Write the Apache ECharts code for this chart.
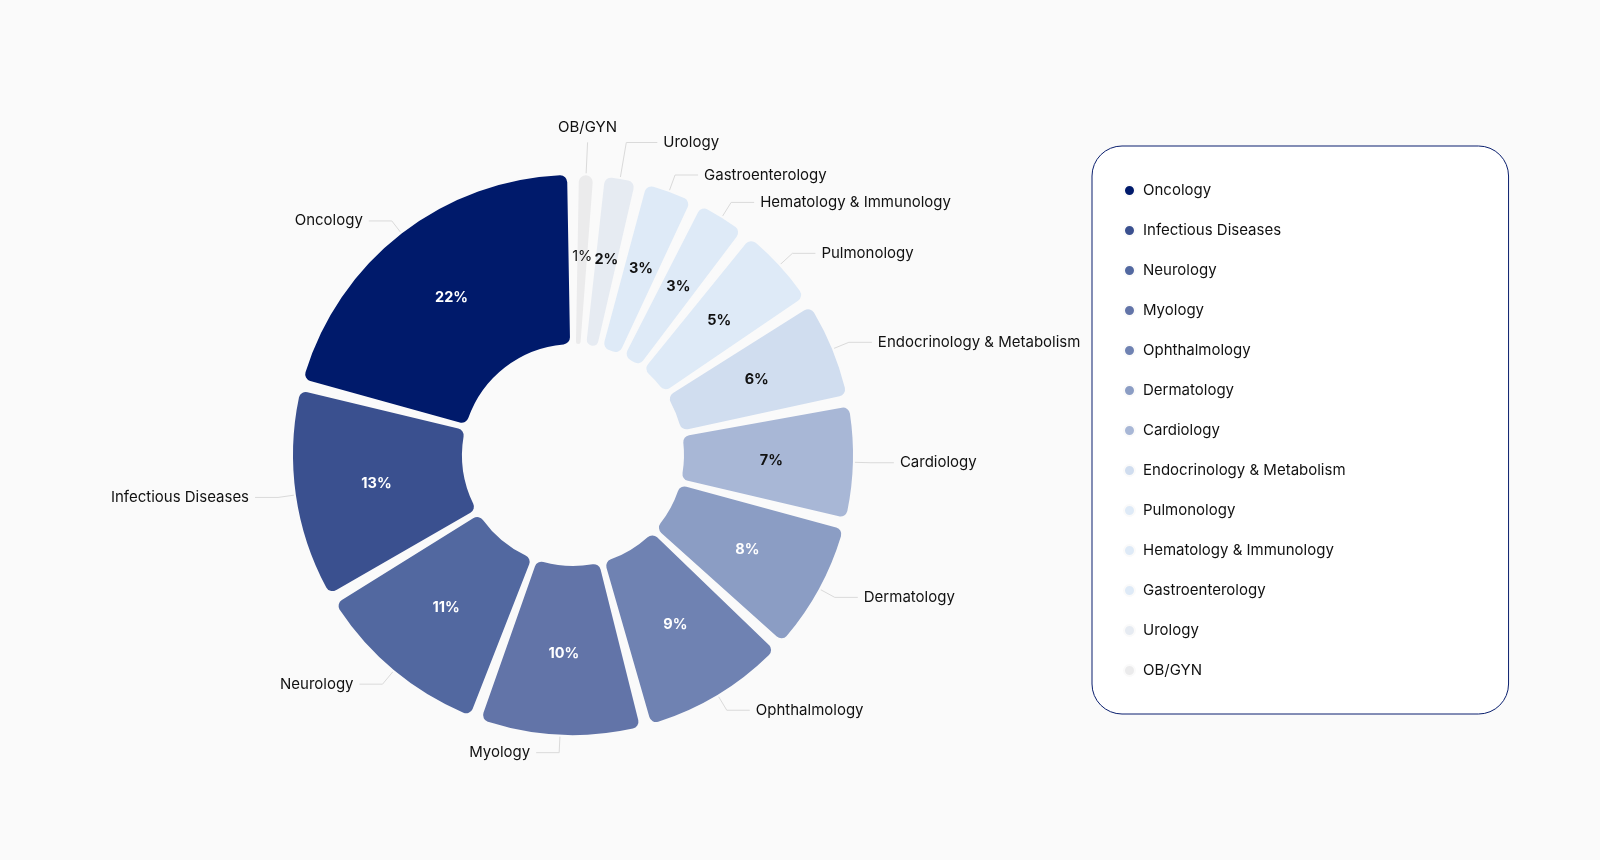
<!DOCTYPE html>
<html><head><meta charset="utf-8">
<script src="https://cdn.jsdelivr.net/npm/echarts@6/dist/echarts.min.js"></script>
<style>html,body{margin:0;padding:0;background:#fafafa;} #c{width:1600px;height:860px;}</style>
</head><body><div id="c"></div>
<script>
// ---- data ----
const categories = ['Oncology','Infectious Diseases','Neurology','Myology','Ophthalmology','Dermatology','Cardiology','Endocrinology & Metabolism','Pulmonology','Hematology & Immunology','Gastroenterology','Urology','OB/GYN'];
const values = [22, 13, 11, 10, 9, 8, 7, 6, 5, 3, 3, 2, 1];
const colors = ['#001a6b','#3a508f','#5268a0','#6274a8','#6f82b2','#8b9dc4','#a8b7d6','#d0ddef','#deeaf7','#deeaf7','#deeaf7','#e6ebf2','#ebebec'];
const insideTextColors = ['#ffffff','#ffffff','#ffffff','#ffffff','#ffffff','#ffffff','#111111','#111111','#111111','#111111','#111111','#111111','#111111'];

// ---- style / layout ----
const FONT = 'Inter, "Noto Sans", sans-serif';
const BG = '#fafafa';
const PAD_DEG = 2;                 // angular padding reserved between slices
const total = values.reduce((a, b) => a + b, 0);
const spacerValue = PAD_DEG * total / (360 - categories.length * PAD_DEG);
const labelLineLen = {'Urology': 36, 'OB/GYN': 32, 'Oncology': 15};
const labelLineLen2 = {'Urology': 31, 'OB/GYN': 0};
const OB_INDEX = categories.length - 1;

function buildData(kind) {
  const out = [];
  const spacer = (v) => ({
    name: '', value: v, isSpacer: true,
    itemStyle: {color: 'rgba(0,0,0,0)', borderWidth: 0},
    label: {show: false}, labelLine: {show: false}, tooltip: {show: false}
  });
  out.push(spacer(spacerValue / 2));
  categories.forEach((n, i) => {
    const item = {name: n, value: values[i], catIndex: i};
    if (kind === 'outer') {
      item.itemStyle = {color: colors[i]};
      item.labelLine = {
        length: labelLineLen[n] != null ? labelLineLen[n] : 17,
        length2: labelLineLen2[n] != null ? labelLineLen2[n] : 23
      };
    } else {
      item.label = {color: insideTextColors[i], fontWeight: i === OB_INDEX ? 'normal' : 'bold'};
    }
    out.push(item);
    out.push(spacer(i === categories.length - 1 ? spacerValue / 2 : spacerValue));
  });
  return out;
}

const chart = echarts.init(document.getElementById('c'), null, {renderer: 'canvas'});

const common = {
  type: 'pie',
  center: [573, 455],
  radius: [110, 281],
  startAngle: 90,
  clockwise: false,
  avoidLabelOverlap: false,
  emphasis: {disabled: true},
  animation: false
};

chart.setOption({
  backgroundColor: BG,
  legend: {
    orient: 'vertical',
    left: 1092, top: 146,
    padding: [37, 163, 36, 31],
    itemGap: 25,
    itemWidth: 11, itemHeight: 11,
    icon: 'circle',
    borderColor: '#0a1f6e', borderWidth: 1, borderRadius: 30,
    backgroundColor: '#ffffff',
    textStyle: {fontSize: 15, color: '#111111', fontFamily: FONT, padding: [0, 0, 0, 3]},
    data: categories.map((n, i) => ({name: n, itemStyle: {color: colors[i]}}))
  },
  series: [
    Object.assign({}, common, {
      name: 'outer',
      data: buildData('outer'),
      itemStyle: {borderRadius: 8, borderColor: BG, borderWidth: 2},
      label: {show: true, position: 'outside', formatter: '{b}', fontSize: 15, color: '#111111', fontFamily: FONT, distanceToLabelLine: 6, padding: [2, 0, 0, 0]},
      labelLine: {show: true, lineStyle: {color: '#dadada', width: 1}},
      labelLayout: function (params) {
        if (params.dataIndex === 2 * OB_INDEX + 1 && params.labelLinePoints) {
          const p = params.labelLinePoints;
          return {
            x: p[1][0], y: p[1][1] - 7,
            align: 'center', verticalAlign: 'bottom',
            labelLinePoints: [p[0], p[1], p[1]]
          };
        }
      }
    }),
    Object.assign({}, common, {
      name: 'inner',
      silent: true,
      data: buildData('inner'),
      itemStyle: {color: 'rgba(0,0,0,0)', borderWidth: 0},
      label: {
        show: true, position: 'inside', fontSize: 14.5, fontFamily: FONT,
        formatter: (p) => p.data.isSpacer ? '' : values[p.data.catIndex] + '%'
      },
      labelLine: {show: false}
    })
  ]
});
</script></body></html>
